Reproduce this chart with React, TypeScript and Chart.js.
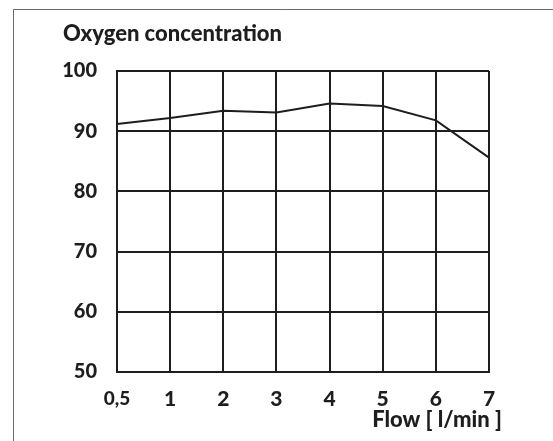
import React, { useEffect, useRef } from "react";
import { Chart, registerables } from "chart.js";

Chart.register(...registerables);

const flowLabels: string[] = ["0,5", "1", "2", "3", "4", "5", "6", "7"];
const oxygenValues: number[] = [91.2, 92.2, 93.4, 93.1, 94.6, 94.2, 91.8, 85.6];
const yMin = 50;
const yMax = 100;
const yStep = 10;
const chartTitle = "Oxygen concentration";
const xAxisTitle = "Flow [ l/min ]";

const FONT = "Lato, 'Open Sans', sans-serif";
const INK = "#1e1e1e";

const decorPlugin = {
  id: "decor",
  beforeDraw(chart: any) {
    const ctx = chart.ctx;
    ctx.save();
    ctx.strokeStyle = "#6a6a6a";
    ctx.lineWidth = 1;
    ctx.beginPath();
    ctx.moveTo(13.5, 441);
    ctx.lineTo(13.5, 9.5);
    ctx.lineTo(553, 9.5);
    ctx.stroke();
    ctx.restore();
  },
  afterDraw(chart: any) {
    const ctx = chart.ctx;
    ctx.save();
    ctx.fillStyle = INK;
    ctx.textBaseline = "alphabetic";
    ctx.textAlign = "left";
    ctx.font = `900 22px ${FONT}`;
    ctx.fillText(chartTitle, 63, 41);
    ctx.textAlign = "right";
    ctx.font = `900 22px ${FONT}`;
    ctx.fillText(xAxisTitle, 502, 427);
    ctx.restore();
  },
};

export default function App() {
  const ref = useRef<HTMLCanvasElement | null>(null);
  useEffect(() => {
    if (!ref.current) return;
    const chart = new Chart(ref.current, {
      type: "line",
      data: {
        labels: flowLabels,
        datasets: [
          {
            data: oxygenValues,
            borderColor: INK,
            borderWidth: 2,
            pointRadius: 0,
            tension: 0,
            fill: false,
          },
        ],
      },
      options: {
        animation: false,
        responsive: false,
        maintainAspectRatio: false,
        layout: { padding: { left: 0, top: 71, right: 64, bottom: 0 } },
        plugins: {
          legend: { display: false },
          title: { display: false },
          tooltip: { enabled: false },
        },
        scales: {
          x: {
            type: "category",
            offset: false,
            afterFit: (scale: any) => {
              scale.height = 69;
            },
            grid: {
              color: INK,
              lineWidth: 2,
              drawTicks: false,
            },
            border: { color: INK, width: 2 },
            ticks: {
              color: INK,
              padding: 15,
              maxRotation: 0,
              autoSkip: false,
              font: (c: any) =>
                c.index === 0
                  ? { family: FONT, size: 19, weight: "900" }
                  : { family: FONT, size: 21, weight: "900" },
            },
          },
          y: {
            min: yMin,
            max: yMax,
            afterFit: (scale: any) => {
              scale.width = 117;
            },
            grid: {
              color: INK,
              lineWidth: 2,
              drawTicks: false,
            },
            border: { color: INK, width: 2 },
            ticks: {
              stepSize: yStep,
              color: INK,
              padding: 20,
              font: { family: FONT, size: 20, weight: "900" },
            },
          },
        },
      },
      plugins: [decorPlugin],
    });
    return () => chart.destroy();
  }, []);
  return (
    <div style={{ position: "fixed", left: 0, top: 0, width: 553, height: 441, background: "#fff" }}>
      <canvas ref={ref} width={553} height={441} style={{ width: 553, height: 441 }} />
    </div>
  );
}
